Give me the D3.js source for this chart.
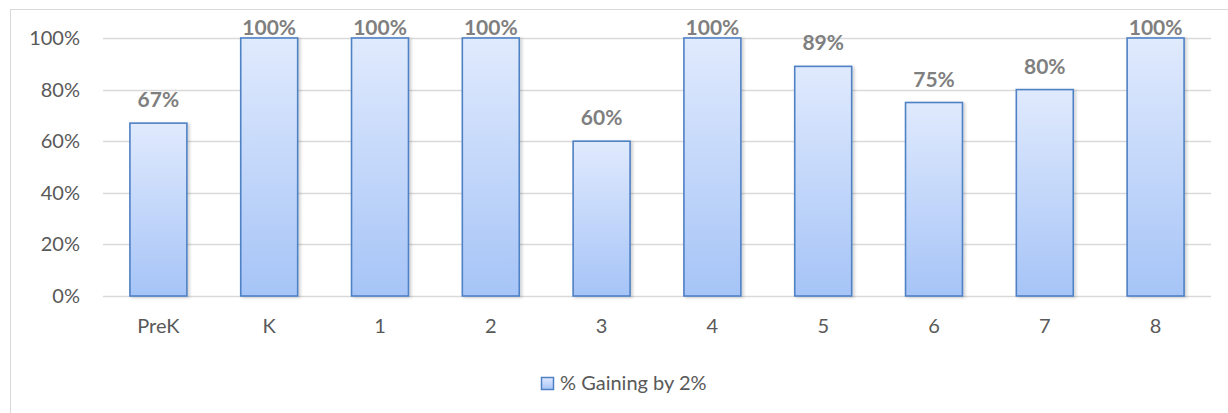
<!DOCTYPE html>
<html lang="en">
<head>
    <meta charset="utf-8">
    <script src="https://d3js.org/d3.v7.min.js"></script>
    <style>
        body { margin: 0; background: #fff; }
        svg text { font-family: Lato, "Open Sans", sans-serif; }
    </style>
</head>
<body>
<script>
    // chart data
    var grades = ["PreK", "K", "1", "2", "3", "4", "5", "6", "7", "8"];
    var gaining = [0.67, 1.00, 1.00, 1.00, 0.60, 1.00, 0.89, 0.75, 0.80, 1.00];
    var yTicks = [0, 0.2, 0.4, 0.6, 0.8, 1.0];
    var seriesName = "% Gaining by 2%";

    var width = 1228, height = 413;
    var plot = { left: 103, right: 1211, top: 38, bottom: 296 };

    var svg = d3.select("body").append("svg")
        .attr("width", width)
        .attr("height", height);

    var defs = svg.append("defs");
    var grad = defs.append("linearGradient")
        .attr("id", "barFill")
        .attr("x1", 0).attr("y1", 0).attr("x2", 0).attr("y2", 1);
    grad.append("stop").attr("offset", "0%").attr("stop-color", "#e0eafd");
    grad.append("stop").attr("offset", "100%").attr("stop-color", "#a6c4f7");

    var shadow = defs.append("filter").attr("id", "shadow")
        .attr("x", "-20%").attr("y", "-5%").attr("width", "140%").attr("height", "110%");
    shadow.append("feDropShadow")
        .attr("dx", 2).attr("dy", 1).attr("stdDeviation", 1.5)
        .attr("flood-color", "#000").attr("flood-opacity", 0.18);

    // outer chart border
    svg.append("rect")
        .attr("x", 10.5).attr("y", 9.5)
        .attr("width", 1230).attr("height", 410)
        .attr("fill", "none")
        .attr("stroke", "#d9d9d9");

    var x = d3.scaleBand()
        .domain(grades)
        .range([plot.left, plot.right])
        .paddingInner(0.486)
        .paddingOuter(0.243);

    var y = d3.scaleLinear()
        .domain([0, 1])
        .range([plot.bottom, plot.top]);

    // gridlines
    svg.append("g")
        .selectAll("line")
        .data(yTicks)
        .enter()
        .append("line")
        .attr("x1", plot.left)
        .attr("x2", plot.right)
        .attr("y1", function(d) { return Math.round(y(d)) + 0.5; })
        .attr("y2", function(d) { return Math.round(y(d)) + 0.5; })
        .attr("stroke", "#d9d9d9")
        .attr("stroke-width", 1.3);

    // y axis labels
    var yAxis = d3.axisLeft(y)
        .tickValues(yTicks)
        .tickFormat(d3.format(".0%"))
        .tickSize(0)
        .tickPadding(23);
    var gy = svg.append("g")
        .attr("transform", "translate(" + plot.left + ",0)")
        .call(yAxis);
    gy.select(".domain").remove();
    gy.selectAll("text")
        .attr("fill", "#595959")
        .style("font-size", "20px");

    // x axis labels
    var xAxis = d3.axisBottom(x).tickSize(0).tickPadding(23);
    var gx = svg.append("g")
        .attr("transform", "translate(0," + plot.bottom + ")")
        .call(xAxis);
    gx.select(".domain").remove();
    gx.selectAll("text")
        .attr("fill", "#595959")
        .style("font-size", "20px");

    // bars
    svg.append("g")
        .selectAll("rect")
        .data(gaining)
        .enter()
        .append("rect")
        .attr("x", function(d, i) { return x(grades[i]); })
        .attr("y", function(d) { return y(d); })
        .attr("width", x.bandwidth())
        .attr("height", function(d) { return plot.bottom - y(d); })
        .attr("fill", "url(#barFill)")
        .attr("stroke", "#4f81c5")
        .attr("stroke-width", 1.6)
        .attr("filter", "url(#shadow)");

    // value labels
    svg.append("g")
        .selectAll("text")
        .data(gaining)
        .enter()
        .append("text")
        .attr("x", function(d, i) { return x(grades[i]) + x.bandwidth() / 2; })
        .attr("y", function(d) { return Math.max(y(d) - 16, 35); })
        .attr("text-anchor", "middle")
        .attr("fill", "#7f7f7f")
        .style("font-size", "21px")
        .style("font-weight", "bold")
        .text(function(d) { return Math.round(d * 100) + "%"; });

    // legend
    var legend = svg.append("g").attr("transform", "translate(541,377)");
    legend.append("rect")
        .attr("x", 0.5).attr("y", 0.5)
        .attr("width", 12).attr("height", 12)
        .attr("fill", "url(#barFill)")
        .attr("stroke", "#4f81c5")
        .attr("stroke-width", 1.5);
    legend.append("text")
        .attr("x", 19)
        .attr("y", 13)
        .attr("fill", "#595959")
        .style("font-size", "20px")
        .text(seriesName);
</script>
</body>
</html>
